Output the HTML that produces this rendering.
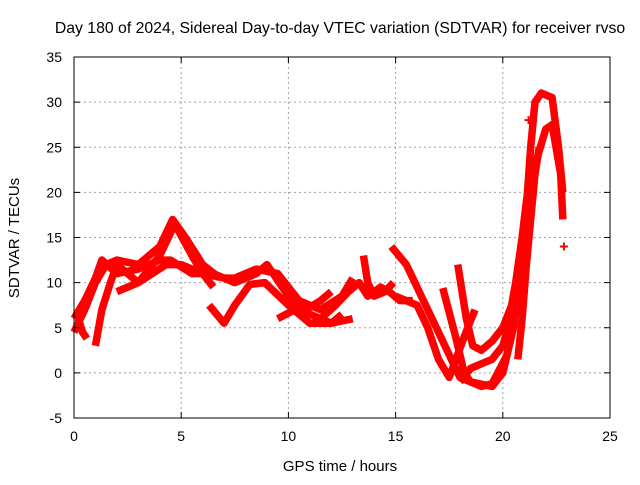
<!DOCTYPE html>
<html><head><meta charset="utf-8"><style>
body{margin:0;background:#fff;}
svg text{font-family:"Liberation Sans",sans-serif;font-size:14px;fill:#000;}
</style></head><body>
<svg id="chart" width="640" height="480" viewBox="0 0 640 480" xmlns="http://www.w3.org/2000/svg">
<rect width="640" height="480" fill="#fff"/>
<text x="340" y="33" text-anchor="middle" style="font-size:15.8px">Day 180 of 2024, Sidereal Day-to-day VTEC variation (SDTVAR) for receiver rvso</text>
<g id="grid"></g>
<g id="series"></g>
<g id="axes"></g>
<text x="340" y="471" text-anchor="middle" style="font-size:15px">GPS time / hours</text>
<text transform="translate(19,238) rotate(-90)" text-anchor="middle" style="font-size:15px">SDTVAR / TECUs</text>
</svg>
<script>
const xTicks=[0,5,10,15,20,25];
const yTicks=[-5,0,5,10,15,20,25,30,35];
const t1x=[0,0.5,1,1.5,2,3,4,4.6,5.2,6,6.8];
const t1y=[4.5,7,10,12,12.5,12,14,17,15,12,10.5];
const t2x=[0,0.5,1,1.3,2,3,4,4.5,5.5,6.5,7.5,8.5,9,10,11,12,13];
const t2y=[6,8,10.5,12.5,11,11.5,12.5,12.5,11,11,10,11,12,8.5,6.5,5.5,6];
const t3x=[0.2,0.4,0.6];
const t3y=[6,4.5,3.8];
const t4x=[1,1.3,1.7,2,3,4,4.7,5.5,6,6.5];
const t4y=[3,7,10,12,10,13,16.5,13,11,9.5];
const t5x=[2,3,4.3,5,6,7,7.5,8.5,9.5,10.5,11.5,12.5,13];
const t5y=[9,10,12,12,11,10.5,10.5,11.5,11,8,7,8.5,10.5];
const t6x=[6.3,7,7.5,8.2,8.9,10,11,12,12.5];
const t6y=[7.5,5.5,7.5,9.8,10,7.5,5.5,5.5,6.5];
const t7x=[9.5,10.3,10.8,11.5,12];
const t7y=[6,7,7,8,9];
const t8x=[11.5,12.2,12.8,13.3,13.7,14.3,14.7,15.2,15.8];
const t8y=[6,7.5,9,10,8.5,9.5,9,8,8];
const t9x=[13.5,13.7,14,14.5,14.9];
const t9y=[13,10,8.5,9,10];
const t10x=[14.8,15.5,16.5,17.5,18,18.5,19.5,20,20.5,21,21.3,21.5,21.8,22.3,22.6,22.8];
const t10y=[14,12,7,2,-0.5,-1,-1.5,0,5,15,25,30,31,30.5,25,20];
const t11x=[17.2,17.8,18.2,18.5,19,19.5,20.2,20.6,21,21.5,22,22.3,22.7,22.8];
const t11y=[9.4,4,0,-1,-1.5,-1.2,2,8,15,23,27,27.5,22,17];
const t12x=[17.9,18.3,18.6,19,19.5,20,20.5];
const t12y=[12,6,3,2.5,3.5,5,8];
const t13x=[15,16,16.5,17,17.5,18.2,18.7];
const t13y=[8.5,7.5,5,1.5,-0.5,4,7];
const t14x=[18,18.5,19,19.5,20,20.5,21,21.3];
const t14y=[-1,0.5,1,1.5,3,7,14,20];
const t15x=[20.7,20.9,21.1,21.3,21.5,21.7];
const t15y=[1.5,6,12,17,22,25];
const t16x=[20.3,20.6,20.9,21.1,21.3];
const t16y=[6,10,15,19,22];
const seriesX=[t1x,t2x,t3x,t4x,t5x,t6x,t7x,t8x,t9x,t10x,t11x,t12x,t13x,t14x,t15x,t16x];
const seriesY=[t1y,t2y,t3y,t4y,t5y,t6y,t7y,t8y,t9y,t10y,t11y,t12y,t13y,t14y,t15y,t16y];
const isoX=[22.85,21.2];
const isoY=[14,28];

const L=74,R=610,T=57,B=418,xmin=0,xmax=25,ymin=-5,ymax=35;
const sx=v=>L+(v-xmin)/(xmax-xmin)*(R-L);
const sy=v=>B-(v-ymin)/(ymax-ymin)*(B-T);
const NS="http://www.w3.org/2000/svg";
function mk(tag,parent,attrs){const e=document.createElementNS(NS,tag);for(const k in attrs)e.setAttribute(k,attrs[k]);parent.appendChild(e);return e;}
const grid=document.getElementById('grid'),axes=document.getElementById('axes'),ser=document.getElementById('series');
xTicks.forEach(t=>{
 if(t>xmin&&t<xmax){const g=mk('line',grid,{x1:sx(t),x2:sx(t),y1:T,y2:B,stroke:'#a0a0a0','stroke-dasharray':'2,3'});
 
 }
 mk('line',axes,{x1:sx(t),x2:sx(t),y1:B,y2:B-6,stroke:'#000'});
 mk('line',axes,{x1:sx(t),x2:sx(t),y1:T,y2:T+6,stroke:'#000'});
 const tx=mk('text',axes,{x:sx(t),y:B+23,'text-anchor':'middle'});tx.textContent=t;
 
 
});
yTicks.forEach(t=>{
 if(t>ymin&&t<ymax){const g=mk('line',grid,{x1:L,x2:R,y1:sy(t),y2:sy(t),stroke:'#a0a0a0','stroke-dasharray':'2,3'});
 
 }
 mk('line',axes,{x1:L,x2:L+6,y1:sy(t),y2:sy(t),stroke:'#000'});
 mk('line',axes,{x1:R,x2:R-6,y1:sy(t),y2:sy(t),stroke:'#000'});
 const tx=mk('text',axes,{x:L-12,y:sy(t)+5,'text-anchor':'end'});tx.textContent=t;
 
 
});
const frame=mk('rect',axes,{x:L,y:T,width:R-L,height:B-T,fill:'none',stroke:'#000'});


seriesX.forEach((xs,i)=>{
 const pts=xs.map((x,j)=>sx(x)+','+sy(seriesY[i][j])).join(' ');
 const p=mk('polyline',ser,{points:pts,fill:'none',stroke:'#ff0000','stroke-width':7.5,'stroke-linejoin':'round','stroke-linecap':'butt'});
 
 
});
isoX.forEach((x,i)=>{
 const g=mk('path',ser,{d:`M${sx(x)-4},${sy(isoY[i])}h8M${sx(x)},${sy(isoY[i])-4}v8`,stroke:'#ff0000','stroke-width':2});
 
 
});
</script>
</body></html>
